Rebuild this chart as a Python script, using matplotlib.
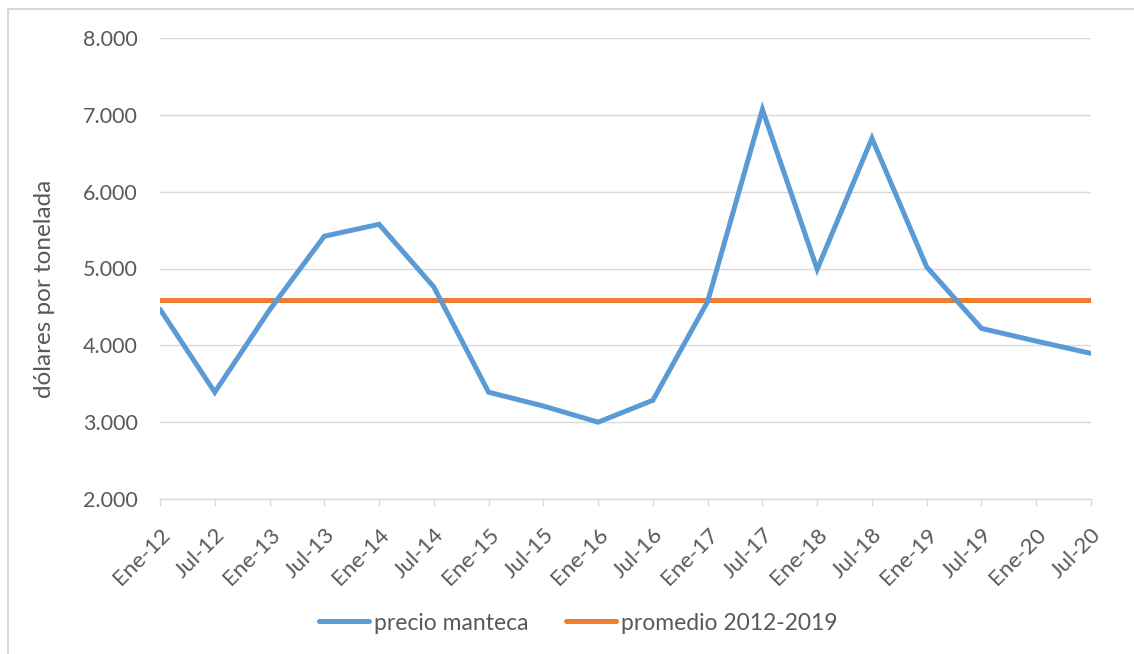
import matplotlib.pyplot as plt
from matplotlib.patches import Rectangle
from matplotlib.ticker import FuncFormatter
import matplotlib.transforms as mtransforms

# data
periodos = ["Ene-12", "Jul-12", "Ene-13", "Jul-13", "Ene-14", "Jul-14",
            "Ene-15", "Jul-15", "Ene-16", "Jul-16", "Ene-17", "Jul-17",
            "Ene-18", "Jul-18", "Ene-19", "Jul-19", "Ene-20", "Jul-20"]
precio_manteca = [4470, 3390, 4460, 5420, 5575, 4760,
                  3390, 3210, 3000, 3285, 4570, 7070,
                  4990, 6695, 5020, 4220, 4055, 3895]
promedio = 4590

plt.rcParams["font.family"] = ["Lato", "DejaVu Sans"]
text_color = "#595959"

fig = plt.figure(figsize=(11.34, 6.54), dpi=100)
ax = fig.add_axes([160 / 1134, 1 - 499 / 654, (1091 - 160) / 1134, (499 - 38) / 654])

x = list(range(len(periodos)))
ax.plot(x, precio_manteca, color="#5B9BD5", linewidth=3.6,
        solid_capstyle="round", solid_joinstyle="miter", label="precio manteca", zorder=3)
ax.plot(x, [promedio] * len(x), color="#ED7D31", linewidth=3.6,
        solid_capstyle="round", label="promedio 2012-2019", zorder=2)

ax.set_xlim(0, len(x) - 1)
ax.set_ylim(2000, 8000)
ax.set_yticks(range(2000, 8001, 1000))
ax.yaxis.set_major_formatter(FuncFormatter(lambda v, p: f"{int(v):,}".replace(",", ".")))
ax.set_xticks(x)
ax.set_xticklabels(periodos, rotation=45, ha="right", rotation_mode="anchor")
shift = mtransforms.ScaledTranslation(3 / 100, -3 / 100, fig.dpi_scale_trans)
for lab in ax.get_xticklabels():
    lab.set_transform(lab.get_transform() + shift)

ax.grid(axis="y", color="#D9D9D9", linewidth=1.0)
ax.set_axisbelow(True)
for side in ["top", "right", "left"]:
    ax.spines[side].set_visible(False)
ax.spines["bottom"].set_color("#D9D9D9")
ax.spines["bottom"].set_linewidth(1.0)
ax.tick_params(axis="y", length=0, pad=16, labelsize=15.5, labelcolor=text_color)
ax.tick_params(axis="x", length=5, width=1.0, color="#D9D9D9", pad=13,
               labelsize=16, labelcolor=text_color)

ax.set_ylabel("dólares por tonelada", fontsize=17.5, color=text_color)
ax.yaxis.set_label_coords((55 - 160) / 931, 1 - (289 - 38) / 461)

fig.legend(loc="center", bbox_to_anchor=(578 / 1134, 1 - 623 / 654), ncol=2,
           frameon=False, fontsize=16.5, labelcolor=text_color,
           handlelength=2.2, handletextpad=0.2, columnspacing=1.65)

# chart frame
fig.patches.append(Rectangle((8 / 1134, -0.1), 1.2, 1 - 9 / 654 + 0.1,
                             transform=fig.transFigure, fill=False,
                             edgecolor="#D9D9D9", linewidth=1.5))

fig.savefig("out.png", dpi=100)
